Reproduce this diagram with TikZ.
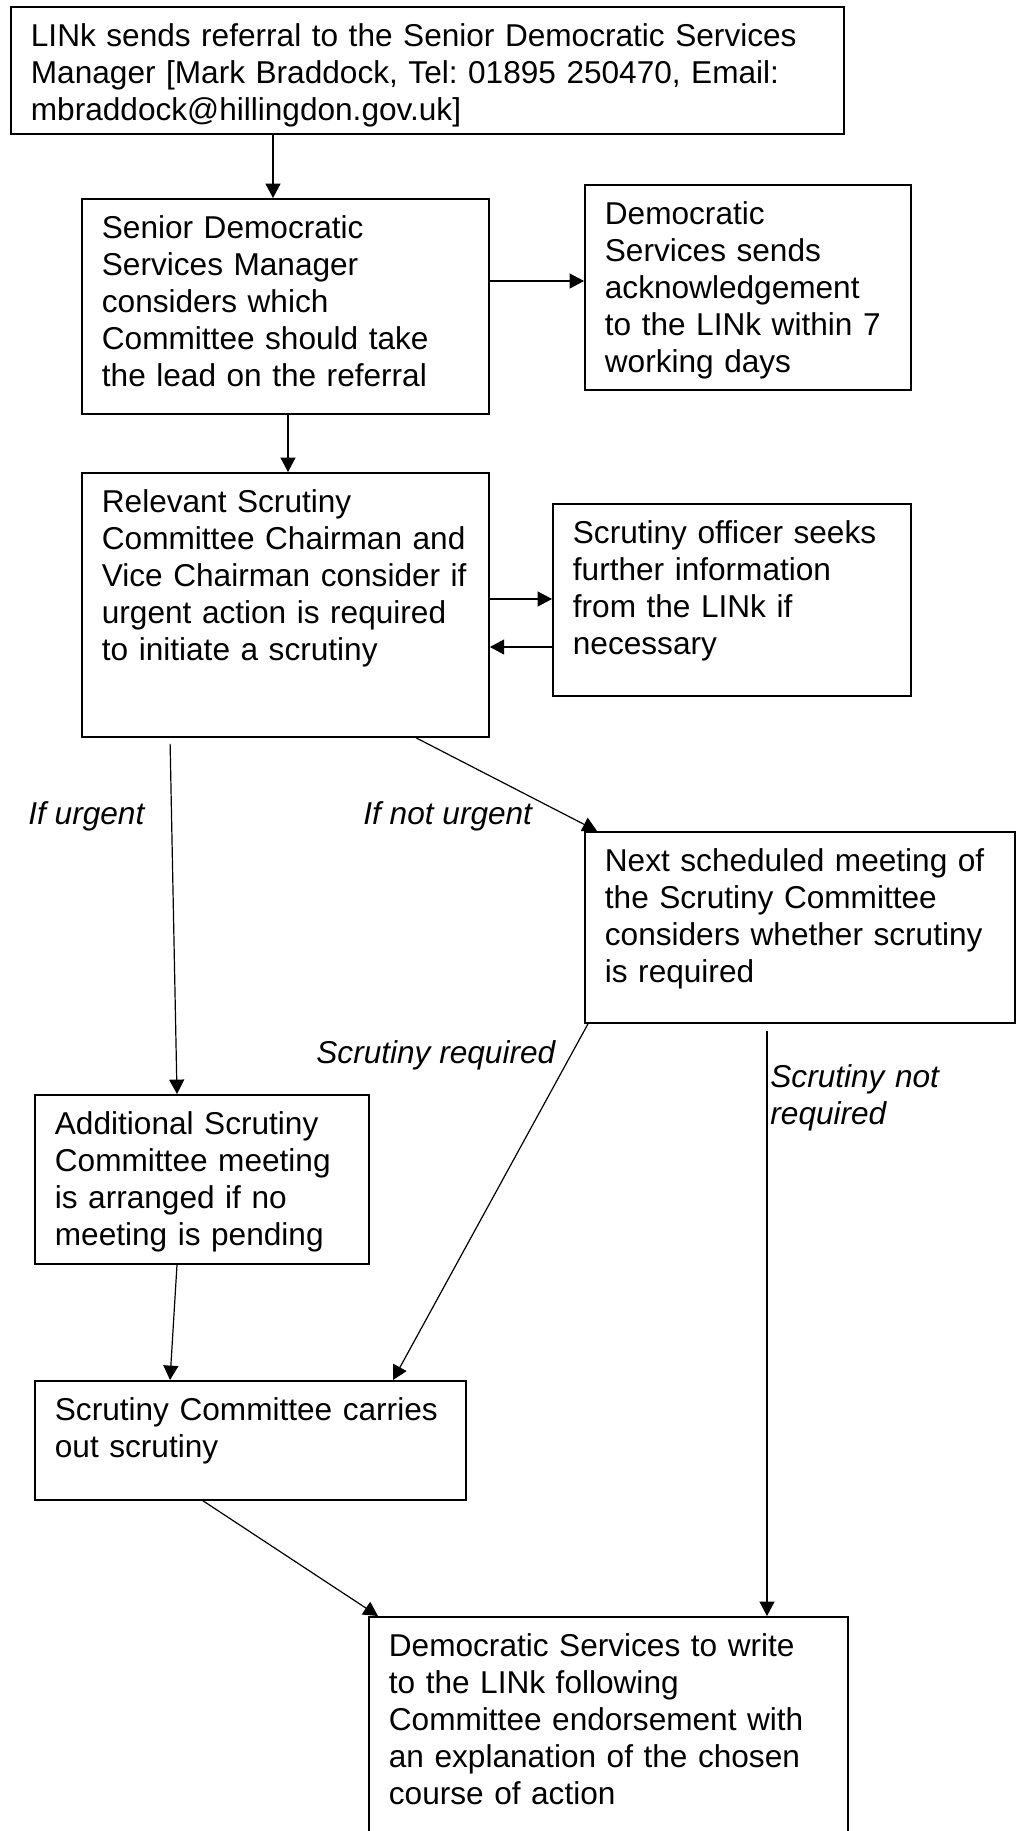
\documentclass[tikz,border=0pt]{standalone}
\usepackage{fontspec}
\setmainfont{Liberation Sans}
\frenchspacing
\usetikzlibrary{arrows.meta}
\tikzset{
  stage/.style={draw, line width=0.9pt, anchor=north west, align=left,
    inner xsep=10pt, inner ysep=0pt, text height=20pt,
    font=\fontsize{15.8pt}{18.5pt}\selectfont},
  cond/.style={anchor=base west, inner sep=0pt, align=left,
    font=\fontsize{15.8pt}{18.5pt}\selectfont\itshape},
  flow/.style={line width=0.6pt, -{Triangle[length=7.2pt,width=7.5pt]}}
}
\begin{document}
\begin{tikzpicture}[x=0.5pt,y=-0.5pt]
\useasboundingbox (0,0) rectangle (1021,1831);
\clip (0,0) rectangle (1021,1831);
%
\node[stage, text width=396.5pt, text depth=43.5pt] (refer) at (10,6)
  {LINk sends referral to the Senior Democratic Services\\
   Manager [Mark Braddock, Tel: 01895 250470, Email:\\
   mbraddock@hillingdon.gov.uk]};
\node[stage, text width=183.5pt, text depth=87.5pt] (sdsm) at (81,198)
  {Senior Democratic\\ Services Manager\\ considers which\\
   Committee should take\\ the lead on the referral};
\node[stage, text width=143pt, text depth=82.5pt] (ack) at (584,184)
  {Democratic\\ Services sends\\ acknowledgement\\
   to the LINk within 7\\ working days};
\node[stage, text width=183.5pt, text depth=112pt] (chair) at (81,472)
  {Relevant Scrutiny\\ Committee Chairman and\\ Vice Chairman consider if\\
   urgent action is required\\ to initiate a scrutiny};
\node[stage, text width=159pt, text depth=76pt] (officer) at (552,503)
  {Scrutiny officer seeks\\ further information\\ from the LINk if\\ necessary};
\node[stage, text width=195pt, text depth=75.5pt] (next) at (584,831)
  {Next scheduled meeting of\\ the Scrutiny Committee\\
   considers whether scrutiny\\ is required};
\node[stage, text width=147pt, text depth=64.5pt] (additional) at (34,1094)
  {Additional Scrutiny\\ Committee meeting\\ is arranged if no\\
   meeting is pending};
\node[stage, text width=195.5pt, text depth=39.5pt] (carries) at (34,1380)
  {Scrutiny Committee carries\\ out scrutiny};
\node[stage, text width=219.5pt, text depth=122pt] (write) at (368,1616)
  {Democratic Services to write\\ to the LINk following\\
   Committee endorsement with\\ an explanation of the chosen\\
   course of action};
%
\node[cond] (urgent) at (28,824) {If urgent};
\node[cond] (noturgent) at (363,824) {If not urgent};
\node[cond] (req) at (316,1063) {Scrutiny required};
\node[cond, text width=110pt] (notreq) at (770,1087) {Scrutiny not\\ required};
%
\draw[flow] (refer.south -| 273,0) -- (sdsm.north -| 273,0);
\draw[flow] (sdsm.east |- 0,281) -- (ack.west |- 0,281);
\draw[flow] (sdsm.south -| 288,0) -- (chair.north -| 288,0);
\draw[flow] (chair.east |- 0,599) -- (officer.west |- 0,599);
\draw[flow] (officer.west |- 0,647) -- (chair.east |- 0,647);
%
\draw[flow, shorten <=3pt] (chair.south -| 170,0) -- (additional.north -| 177,0);
\draw[flow] (chair.south -| 416,0) -- (next.north -| 597,0);
\draw[flow] (next.south -| 588,0) -- (carries.north -| 393,0);
\draw[flow, shorten <=3.5pt] (next.south -| 767,0) -- (write.north -| 767,0);
\draw[flow] (additional.south -| 177,0) -- (carries.north -| 170,0);
\draw[flow] (carries.south -| 203,0) -- (write.north -| 378,0);
\end{tikzpicture}
\end{document}
